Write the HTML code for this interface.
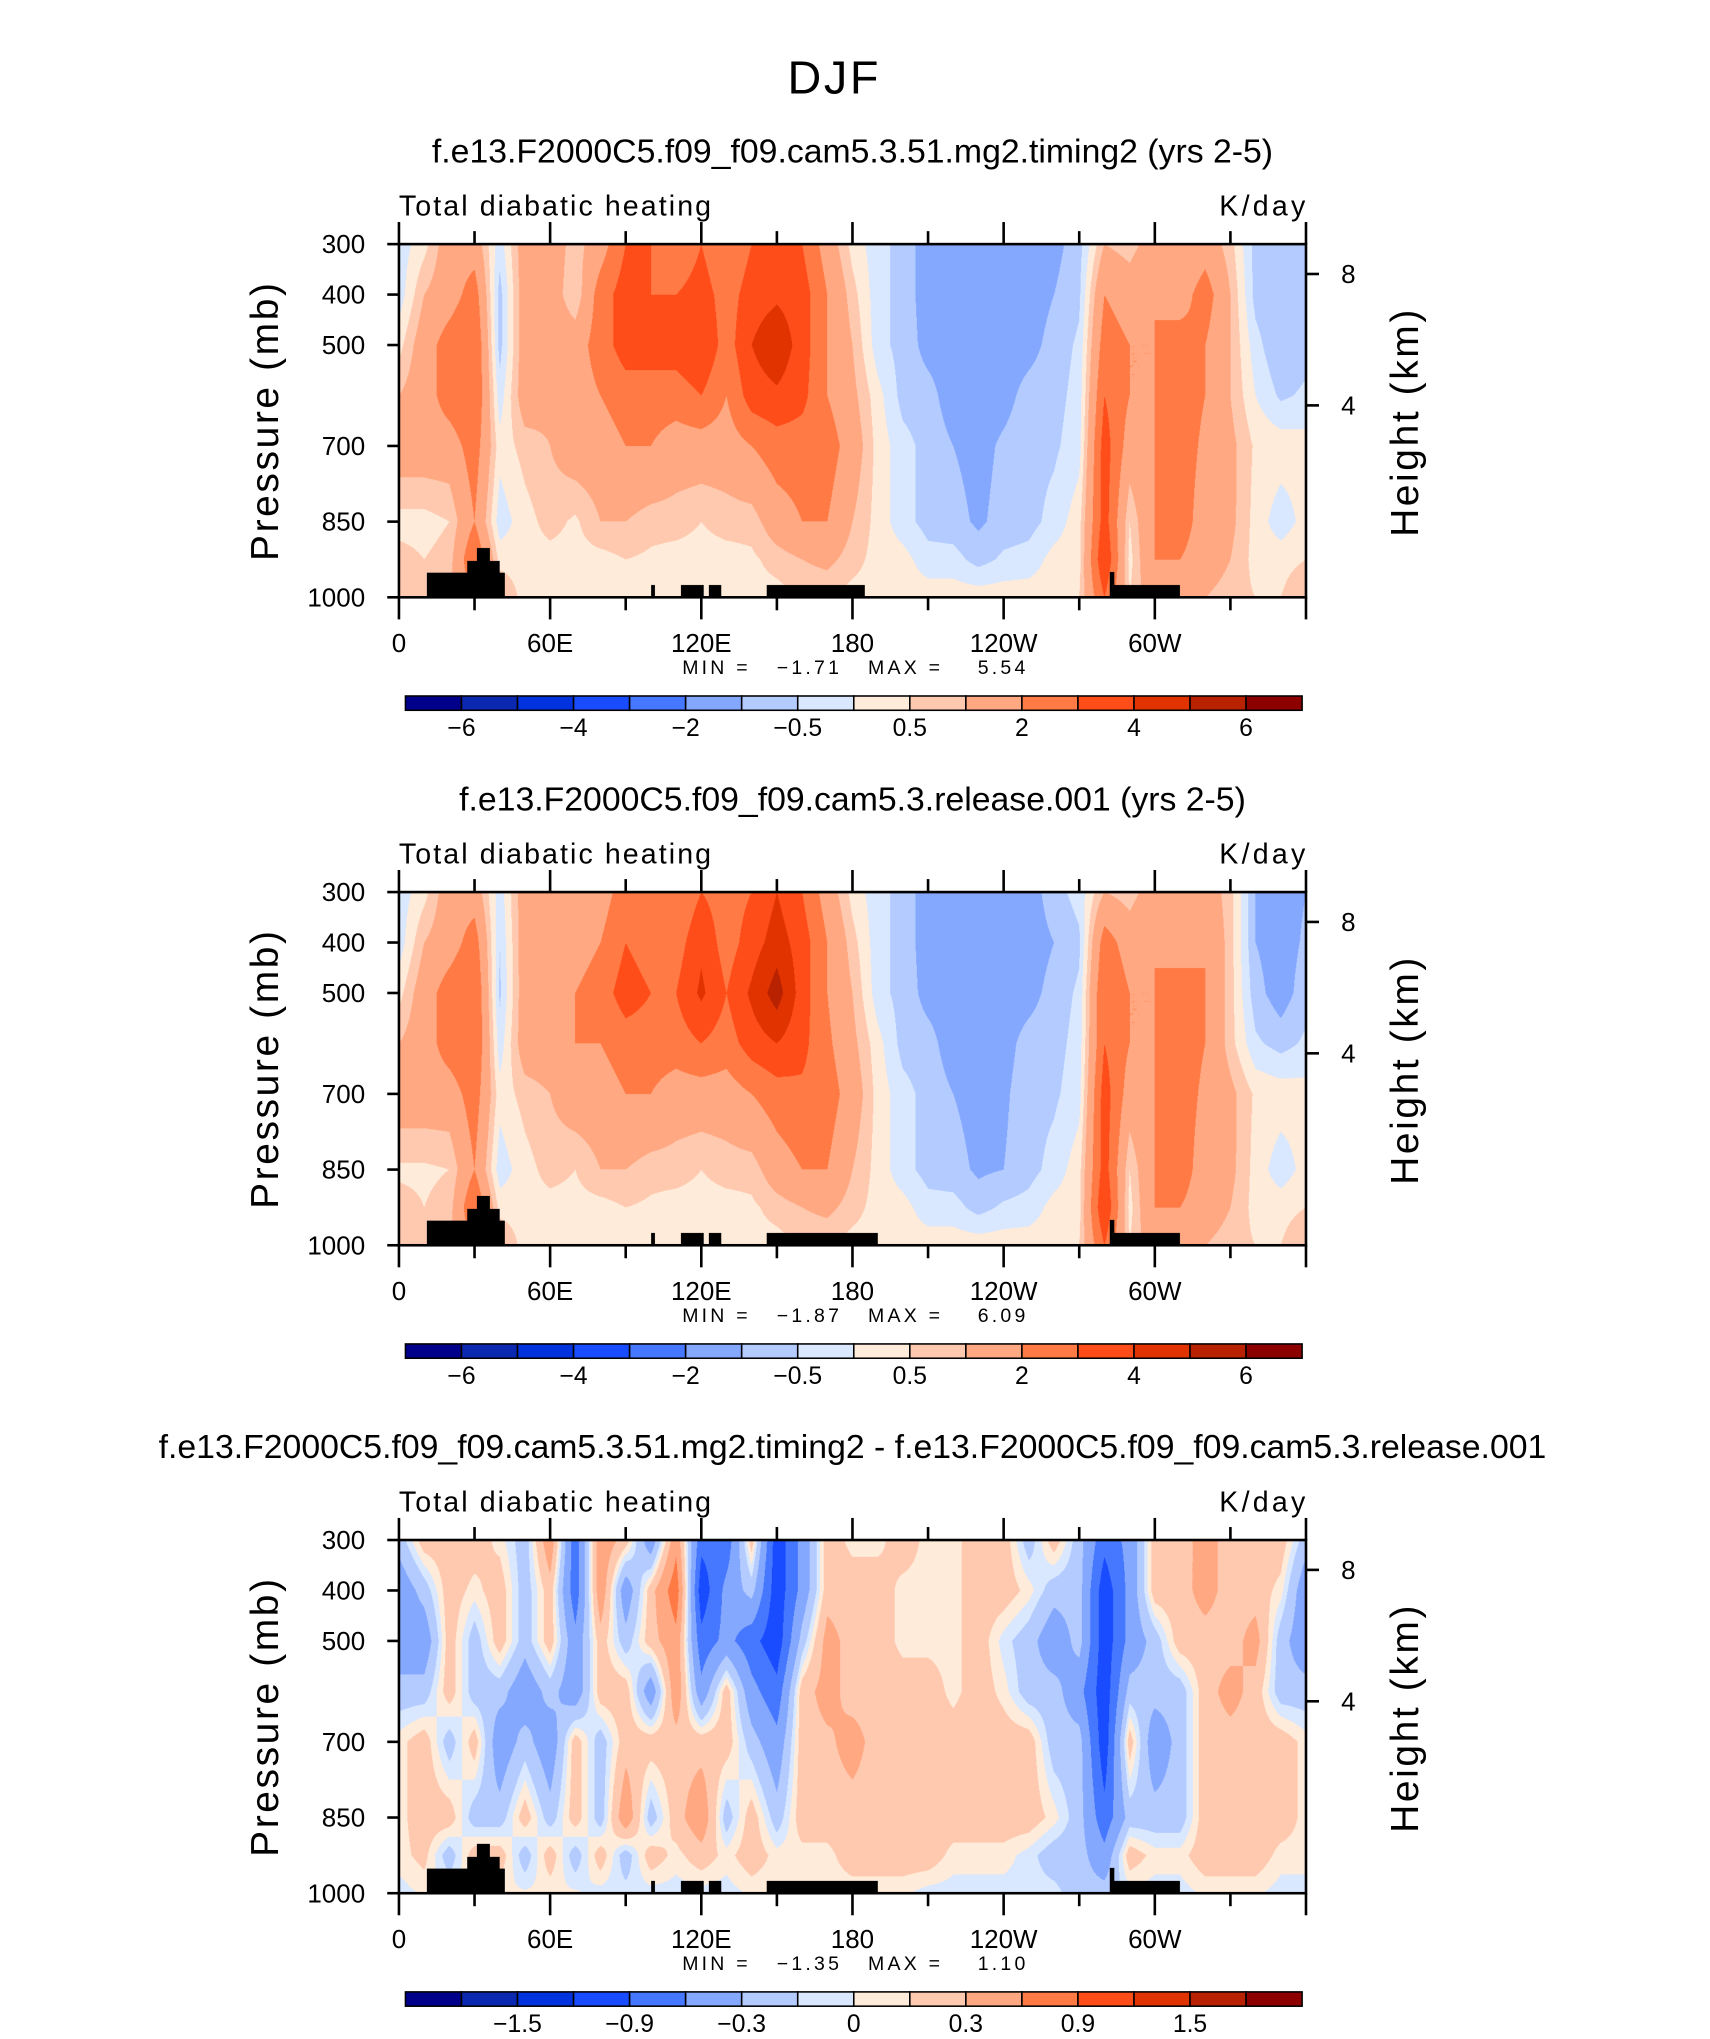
<!DOCTYPE html>
<html><head><meta charset="utf-8">
<style>
html,body{margin:0;padding:0;background:#fff;width:1710px;height:2038px;overflow:hidden}
#wrap{position:absolute;left:0;top:0;width:1316px;height:1570px;transform:scale(1.2995,1.2985);transform-origin:0 0}
canvas{position:absolute}
svg{position:absolute;left:0;top:0}
text{font-family:"Liberation Sans",sans-serif;fill:#000;white-space:pre}
</style></head>
<body>
<div id="wrap">
<svg id="svg" width="1316" height="1570" viewBox="0 0 1316 1570"></svg>
</div>
<script>
// ---- data ----
const lons=[0,10,20,30,40,50,60,70,80,90,100,110,120,130,140,150,160,170,180,190,200,210,220,230,240,250,260,270,280,290,300,310,320,330,340,350,360];
const levels=[300,400,500,600,700,850,925,1000];
const heat1=[
[-0.3,-0.3,0.3,1,1.5,0.3,0.7,1],[0.3,1,1.5,1.5,1.5,0.3,0.5,1],[1.5,1.5,2.5,2.5,1.5,0.5,0.7,1],[1.5,2.5,3,3,2.5,2,3,2],
[-0.3,-0.7,-0.7,-0.3,0.2,-0.3,0.3,1],[1.5,1.5,1.5,1.5,0.7,0.3,0.3,0.3],[1.5,1.5,1.5,1.2,1,0.7,0.3,0.3],[0.7,0.5,1.5,1.5,1.5,0.4,0.3,0.3],
[1.5,2.5,2.5,2,1.5,1,0.3,0.3],[3,3.5,3.5,2.5,2,1,0.5,0.3],[3,3,3.5,2.5,2,0.7,0.4,0.3],[2,3,3.5,2.5,1.5,0.7,0.3,0.3],
[3,3.5,4,3,1.5,0.5,0.3,0.3],[2,2.5,2.5,2,1.5,0.7,0.3,0.3],[3,3.5,4,3.5,2,0.7,0.4,0.3],[3.5,3.8,4.8,3.8,2.5,1.5,0.7,0.3],
[3,3.5,3.5,3.3,2.5,2,1,0.5],[1.5,2,2,2,2.5,2,1.2,0.5],[0.3,0.7,1,1.2,1.5,1,0.7,0.3],[-0.3,-0.3,-0.3,0.2,0.3,0.3,0.3,0.3],
[-0.7,-0.7,-0.7,-0.7,-0.3,-0.3,0.2,0.3],[-1.3,-1.3,-1.2,-0.8,-0.7,-0.7,-0.3,0.3],[-1.3,-1.3,-1.3,-1.3,-1,-0.8,-0.3,0.3],[-1.3,-1.3,-1.3,-1.3,-1.2,-1.1,-0.7,0.3],
[-1.3,-1.3,-1.3,-1.2,-0.9,-0.8,-0.4,0.3],[-1.3,-1.3,-1.2,-0.8,-0.7,-0.7,-0.3,0.3],[-1.2,-1,-0.8,-0.7,-0.6,-0.3,0.2,0.3],[-0.7,-0.6,-0.4,-0.3,-0.2,0.3,0.3,0.5],
[1,2,2.5,3,3.5,3.5,4,3],[0.7,1.5,2,2,1.5,0.5,0.3,0.5],[1.5,2,2,2,2,2,2,1.5],[1,1.5,2.5,2.5,2.5,2.5,2,1],
[1.5,2.5,2,2,1.8,1.5,1.5,1],[0.7,1,1,1,1.2,1.2,1,0.7],[-0.7,-0.7,-0.3,0,0.4,0.3,0.3,0.5],[-1,-1,-1,-0.6,0.3,-0.3,0.3,0.5],
[-1,-0.9,-0.7,-0.4,0.2,0.2,0.5,1]];
const heat2=[
[-0.3,-0.3,0.3,1,1.5,0.4,0.7,1],[0.3,1,1.5,1.5,1.5,0.4,0.5,1],[1.5,1.5,2.5,2.5,1.5,0.5,0.7,1],[1.5,2.5,3,3,2.5,2,3,2],
[-0.3,-0.5,-0.6,-0.3,0.2,-0.3,0.3,1],[1.5,1.5,1.5,1.5,0.7,0.3,0.3,0.3],[1.5,1.5,1.5,1.5,1,0.7,0.3,0.3],[1.5,1.5,2,2,1.5,0.5,0.3,0.3],
[1.5,2,2.5,2,1.5,1,0.3,0.3],[2.5,3,3.5,2.5,2,1,0.5,0.3],[3,2.5,3,2.5,2,0.7,0.4,0.3],[2,2.5,3,2.5,1.5,0.7,0.3,0.3],
[3,3.8,4.2,3,1.5,0.5,0.3,0.3],[2.5,2.5,3,2.5,1.5,0.7,0.3,0.3],[3,3.5,4.2,3.5,2,0.7,0.4,0.3],[4,4.5,5.5,4,2.5,1.5,0.7,0.3],
[3,3.5,3.5,3.3,2.8,2,1,0.5],[1.5,2,2,2.2,2.5,2,1.2,0.5],[0.3,0.7,1,1.2,1.5,1,0.7,0.3],[-0.3,-0.3,-0.3,0.2,0.3,0.3,0.3,0.3],
[-0.7,-0.7,-0.7,-0.7,-0.3,-0.3,0.2,0.3],[-1.3,-1.3,-1.2,-0.8,-0.7,-0.7,-0.3,0.3],[-1.3,-1.3,-1.3,-1.3,-1,-0.8,-0.3,0.3],[-1.3,-1.3,-1.3,-1.3,-1.2,-1.1,-0.7,0.3],
[-1.3,-1.3,-1.3,-1.2,-1.1,-1,-0.4,0.3],[-1.3,-1.3,-1.2,-0.8,-0.7,-0.7,-0.3,0.3],[-0.7,-1,-0.8,-0.7,-0.6,-0.3,0.2,0.3],[-0.3,-0.6,-0.4,-0.3,-0.2,0.3,0.3,0.5],
[1,2.5,3,3,3.5,3.5,4,3],[0.7,1.5,2,2,1.5,0.5,0.3,0.5],[1.5,2,2,2,2,2,2,1.5],[1,1.5,2.5,2.5,2.5,2.5,2,1],
[1.5,2,2,2,1.8,1.5,1.5,1],[0.7,0.7,0.7,0.7,1.2,1.2,1,0.7],[-1,-1,-0.8,-0.4,0.4,0.3,0.3,0.5],[-1.3,-1.3,-1.3,-0.7,0.3,-0.3,0.3,0.5],
[-1,-0.9,-0.7,-0.4,0.2,0.2,0.5,1]];
const diff3=[
[-0.2,-0.5,-0.5,-0.2,0.05,0.05,0.05,-0.05],[0.2,-0.2,-0.5,-0.2,0.2,0.2,0.15,0.02],[0.2,0.2,0.2,0.2,-0.2,0.2,-0.2,0.02],[0.2,0.05,-0.2,-0.2,0.2,-0.2,0.2,0.02],
[0.05,0.2,0.2,-0.2,-0.5,-0.2,0.2,0.02],[-0.2,-0.2,-0.2,-0.5,-0.2,0.2,-0.2,0.02],[0.5,0.2,0.2,-0.2,-0.5,-0.2,0.2,0.02],[-0.8,-0.8,-0.5,-0.5,0.2,0.2,-0.2,0.02],
[0.5,0.5,0.2,0.2,-0.2,-0.2,0.2,-0.05],[0.2,-0.5,-0.2,0.2,0.2,0.5,-0.2,-0.05],[-0.5,0.2,0.2,-0.5,0.2,-0.2,0.2,-0.05],[0.5,0.8,0.5,0.5,0.2,0.2,0.05,-0.05],
[-0.8,-1.1,-0.8,-0.5,0.2,0.5,0.2,-0.05],[-0.8,-0.5,-0.5,0.2,0.2,-0.2,0.05,-0.05],[0.2,-0.2,-0.8,-0.5,-0.2,0.2,0.2,0.02],[-1.1,-1.1,-1.1,-0.8,-0.5,-0.2,0.05,0.02],
[-0.5,-0.5,-0.2,0.2,0.2,0.2,0.05,0.02],[0.2,0.2,0.4,0.4,0.25,0.2,0.05,0.02],[0.05,0.2,0.2,0.2,0.4,0.2,0.2,0.02],[0.05,0.2,0.2,0.2,0.2,0.2,0.2,0.02],
[0.2,0.05,0.05,0.2,0.2,0.2,0.2,0.02],[0.05,0.05,0.05,0.2,0.2,0.2,0.2,-0.05],[0.05,0.05,0.05,0.05,0.2,0.2,0.05,-0.05],[0.2,0.2,0.2,0.2,0.2,0.2,0.05,-0.05],
[0.2,0.2,-0.05,0.05,0.2,0.2,0.05,-0.05],[-0.2,0.05,-0.2,-0.2,0.2,0.2,-0.05,-0.05],[0.2,-0.2,-0.5,-0.2,-0.2,0.05,-0.2,-0.05],[-0.2,-0.2,-0.2,-0.5,-0.2,-0.2,-0.2,-0.2],
[-0.8,-1.1,-1.1,-1.1,-1.1,-0.8,-0.5,-0.2],[-0.5,-0.5,-0.5,-0.2,0.2,-0.2,0.2,-0.05],[0.2,0.2,-0.2,-0.2,-0.5,-0.2,0.05,-0.05],[0.2,0.2,0.2,-0.2,-0.2,-0.2,0.05,-0.05],
[0.4,0.4,0.2,0.2,0.2,0.2,0.2,0.02],[0.2,0.2,0.2,0.4,0.2,0.2,0.2,0.02],[0.2,0.2,0.4,0.2,0.2,0.2,0.2,0.02],[0.2,0.05,-0.2,-0.2,0.2,0.2,0.05,-0.05],
[-0.2,-0.5,-0.5,-0.2,0.05,0.05,0.05,-0.05]];
const bounds12=[-6,-5,-4,-3,-2,-1,-0.5,0,0.5,1,2,3,4,5,6];
const bounds3=[-1.8,-1.5,-1.2,-0.9,-0.6,-0.3,-0.1,0,0.1,0.3,0.6,0.9,1.2,1.5,1.8];
const cbLabels12=["-6","","-4","","-2","","-0.5","","0.5","","2","","4","","6"];
const cbLabels3=["","-1.5","","-0.9","","-0.3","","0","","0.3","","0.9","","1.5",""];
const xTickLons=[0,30,60,90,120,150,180,210,240,270,300,330,360];
const xLabelLons=[0,60,120,180,240,300];
const xLabels=["0","60E","120E","180","120W","60W"];
const yLabelLevels=[300,400,500,700,850,1000];
const kmTicks=[8,4];
// land mask: [lonStart, lonEnd, topPressure]
const land1=[[11,27,951],[27,31,928],[31,36,902],[36,40,928],[40,42,951],[100,101.5,975],[112,121,975],[123,128,975],[146,185,975],[282,284,950],[283.5,310,975]];
const land2=[[11,27,951],[27,31,928],[31,36,902],[36,40,928],[40,42,951],[100,101.5,975],[112,121,975],[123,128,975],[146,190,975],[282,284,950],[283.5,310,975]];
const palette=["#00008a","#0a28b0","#0033dd","#1a4cff","#4577ff","#85a8ff","#b3cbff","#d9e8ff","#ffebd9","#ffc9b0","#ffa882","#ff7a45","#ff4d1a","#e03300","#b82200","#8c0000"];

const panels=[
 {top:188,data:heat1,bounds:bounds12,labels:cbLabels12,land:land1,title:"f.e13.F2000C5.f09_f09.cam5.3.51.mg2.timing2 (yrs 2-5)",min:"-1.71",max:"5.54",key:"top"},
 {top:687,data:heat2,bounds:bounds12,labels:cbLabels12,land:land2,title:"f.e13.F2000C5.f09_f09.cam5.3.release.001 (yrs 2-5)",min:"-1.87",max:"6.09",key:"middle"},
 {top:1186,data:diff3,bounds:bounds3,labels:cbLabels3,land:land2,title:"f.e13.F2000C5.f09_f09.cam5.3.51.mg2.timing2 - f.e13.F2000C5.f09_f09.cam5.3.release.001",min:"-1.35",max:"1.10",key:"bottom"}
];
const L=307,R=1005,W=R-L,H=272;
const NS="http://www.w3.org/2000/svg";
const svg=document.getElementById('svg');
const wrap=document.getElementById('wrap');
function xOf(lon){return L+lon/360*W;}
function yOf(top,p){return top+(p-300)/700*H;}
function mk(tag,attrs,parent){const e=document.createElementNS(NS,tag);for(const k in attrs)e.setAttribute(k,attrs[k]);(parent||svg).appendChild(e);return e;}
function txt(x,y,s,size,anchor,parent,extra){const t=mk('text',Object.assign({x:x,y:y,'font-size':size,'text-anchor':anchor||'start'},extra||{}),parent);t.textContent=s;return t;}
function interp(data,lon,p){
  let i=Math.min(Math.floor(lon/10),35);let fx=(lon-lons[i])/10;
  let j=0;while(j<levels.length-2&&p>levels[j+1])j++;
  let fy=(p-levels[j])/(levels[j+1]-levels[j]);
  const a=data[i][j],b=data[i+1][j],c=data[i][j+1],d=data[i+1][j+1];
  return a*(1-fx)*(1-fy)+b*fx*(1-fy)+c*(1-fx)*fy+d*fx*fy;
}
function colIdx(v,b){let k=0;while(k<b.length&&v>b[k])k++;return k;}

const t0=txt(642,72,"DJF",36,'middle',null,{'letter-spacing':'2'});



panels.forEach((P,pi)=>{
  const g=mk('g',{});
  
  
  const cv=document.createElement('canvas');
  
  
  const sc=2;cv.width=W*sc;cv.height=H*sc;
  cv.style.left=L+'px';cv.style.top=P.top+'px';cv.style.width=W+'px';cv.style.height=H+'px';
  wrap.insertBefore(cv,svg);
  const ctx=cv.getContext('2d');const img=ctx.createImageData(cv.width,cv.height);
  const rgb=palette.map(h=>[parseInt(h.substr(1,2),16),parseInt(h.substr(3,2),16),parseInt(h.substr(5,2),16)]);
  for(let py=0;py<cv.height;py++){const p=300+(py+0.5)/cv.height*700;
    for(let px=0;px<cv.width;px++){const lon=(px+0.5)/cv.width*360;
      let c;let isLand=false;
      for(const s of P.land){if(lon>=s[0]&&lon<=s[1]&&p>=s[2]){isLand=true;break;}}
      c=isLand?[0,0,0]:rgb[colIdx(interp(P.data,lon,p),P.bounds)];
      const o=(py*cv.width+px)*4;img.data[o]=c[0];img.data[o+1]=c[1];img.data[o+2]=c[2];img.data[o+3]=255;}}
  ctx.putImageData(img,0,0);
  const tt=txt(656,P.top-63,P.title,26,'middle',g);
  
  
  const ts=txt(L,P.top-22,"Total diabatic heating",22,'start',g,{'letter-spacing':'1.6'});
  
  
  const tu=txt(R+2,P.top-22,"K/day",22,'end',g,{'letter-spacing':'2.5'});
  
  
  const fr=mk('rect',{x:L,y:P.top,width:W,height:H,fill:'none',stroke:'#000','stroke-width':2},g);
  
  
  xTickLons.forEach((lon,k)=>{const major=lon%60===0;const x=xOf(lon);const len=major?17:10;
    mk('line',{x1:x,x2:x,y1:P.top,y2:P.top-len,stroke:'#000','stroke-width':2},g);
    mk('line',{x1:x,x2:x,y1:P.top+H,y2:P.top+H+len,stroke:'#000','stroke-width':2},g);});
  xLabelLons.forEach((lon,k)=>{const t=txt(xOf(lon),P.top+H+42,xLabels[k],20,'middle',g);
    
    });
  yLabelLevels.forEach(p=>{const y=yOf(P.top,p);
    mk('line',{x1:L,x2:L-9,y1:y,y2:y,stroke:'#000','stroke-width':2},g);
    const t=txt(L-26,y+7,String(p),20,'end',g);
    
    });
  kmTicks.forEach(km=>{const y=P.top+23+(8-km)*25.3;
    mk('line',{x1:R,x2:R+10,y1:y,y2:y,stroke:'#000','stroke-width':2},g);
    const t=txt(R+27,y+7,String(km),20,'start',g);
    
    });
  const yt=txt(0,0,"Pressure (mb)",30,'middle',g,{transform:`translate(214,${P.top+136}) rotate(-90)`,'letter-spacing':'2'});
  
  
  const rt=txt(0,0,"Height (km)",30,'middle',g,{transform:`translate(1091,${P.top+137}) rotate(-90)`,'letter-spacing':'2'});
  
  
  const mm=txt(525,P.top+331,`MIN =   ${P.min.replace('-','\u2212')}   MAX =    ${P.max}`,15,'start',g,{textLength:264,lengthAdjust:'spacing'});
  
  
  const cb=mk('g',{},g);
  
  
  const cx0=312,cw=690/16,cy=P.top+348;
  palette.forEach((c,k)=>{const r=mk('rect',{x:cx0+k*cw,y:cy,width:cw,height:11,fill:c,stroke:'#000','stroke-width':1.2},cb);
    
    });
  P.labels.forEach((s,k)=>{if(!s)return;const t=txt(cx0+(k+1)*cw,cy+31,s.replace('-','\u2212'),19,'middle',cb);
    
    });
});
</script>
</body></html>
